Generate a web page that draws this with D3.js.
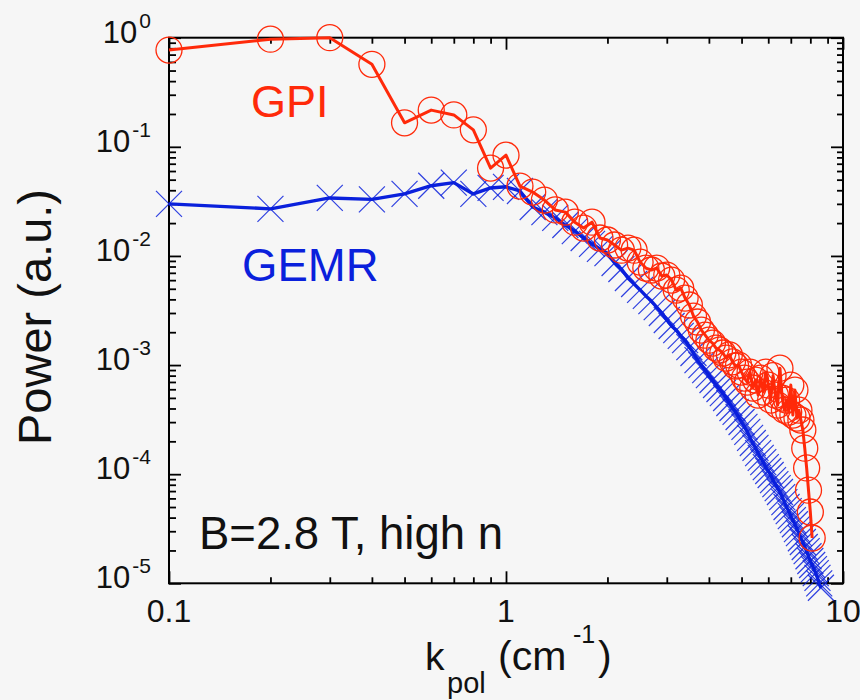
<!DOCTYPE html>
<html><head><meta charset="utf-8">
<script src="https://cdn.jsdelivr.net/npm/d3@7"></script>
<style>
html,body{margin:0;padding:0;background:#f6f6f6;}
svg{display:block;}
text{font-family:"Liberation Sans",Arial,Helvetica,sans-serif;}
</style>
</head><body>
<svg id="chart" width="860" height="700"></svg>
<script>
// ---------- data ----------
const kGPI = [0.1,0.2,0.3,0.4,0.5,0.6,0.7,0.8,0.9,1.0,
  1.1,1.2,1.3,1.4,1.5,1.6,1.7,1.8,1.9,2.0,
  2.1,2.2,2.3,2.4,2.5,2.6,2.7,2.8,2.9,3.0,
  3.1,3.2,3.3,3.4,3.5,3.6,3.7,3.8,3.9,4.0,
  4.1,4.2,4.3,4.4,4.5,4.6,4.7,4.8,4.9,5.0,
  5.1,5.2,5.3,5.4,5.5,5.6,5.7,5.8,5.9,6.0,
  6.1,6.2,6.3,6.4,6.5,6.6,6.7,6.8,6.9,7.0,
  7.1,7.2,7.3,7.4,7.5,7.6,7.7,7.8,7.9,8.0,
  8.1];
const powerGPI = [0.77,0.97,1.0,0.57,0.166,0.217,0.196,0.143,0.0638,0.0839,
  0.0437,0.0385,0.0325,0.0264,0.0252,0.0204,0.0180,0.0204,0.0146,0.0140,
  0.0126,0.0113,0.0118,0.0113,0.00879,0.00774,0.00743,0.00774,0.00655,0.00668,
  0.00601,0.00486,0.00507,0.00411,0.00355,0.00281,0.00248,0.00209,0.00188,0.00169,
  0.00159,0.00143,0.00137,0.00129,0.00116,0.00124,0.00107,0.00098,0.00100,0.000863,
  0.000760,0.000698,0.000863,0.000615,0.000729,0.000531,0.000760,0.000565,0.000863,0.000656,
  0.000478,0.000800,0.000531,0.000430,0.000937,0.000498,0.000386,0.000478,0.000371,0.000656,
  0.000348,0.000590,0.000327,0.000386,0.000313,0.000254,0.000173,0.000114,0.0000714,0.0000450,
  0.0000260];

const kGEMR = [0.1,0.2,0.3,0.4,0.5,0.6,0.7,0.8,0.9,1.0,
  1.1,1.2,1.3,1.4,1.5,1.6,1.7,1.8,1.9,2.0,
  2.1,2.2,2.3,2.4,2.5,2.6,2.7,2.8,2.9,3.0,
  3.1,3.2,3.3,3.4,3.5,3.6,3.7,3.8,3.9,4.0,
  4.1,4.2,4.3,4.4,4.5,4.6,4.7,4.8,4.9,5.0,
  5.1,5.2,5.3,5.4,5.5,5.6,5.7,5.8,5.9,6.0,
  6.1,6.2,6.3,6.4,6.5,6.6,6.7,6.8,6.9,7.0,
  7.1,7.2,7.3,7.4,7.5,7.6,7.7,7.8,7.9,8.0,
  8.1,8.2,8.3,8.4,8.5,8.6];
const powerGEMR = [0.030,0.027,0.034,0.033,0.037,0.044,0.047,0.037,0.042,0.043,
  0.0394,0.0281,0.0252,0.0223,0.0192,0.0169,0.0146,0.0129,0.0116,0.0106,
  0.00861,0.00759,0.00628,0.00553,0.00488,0.00430,0.00386,0.00340,0.00300,0.00259,
  0.00228,0.00209,0.00185,0.00169,0.00146,0.00129,0.00111,0.00100,0.000899,0.000809,
  0.000729,0.000656,0.000603,0.000553,0.000499,0.000449,0.000404,0.000372,0.000334,0.000301,
  0.000271,0.000244,0.000215,0.000193,0.000174,0.000156,0.000141,0.000129,0.000116,0.000107,
  9.82e-5,8.83e-5,8.11e-5,7.46e-5,6.86e-5,6.17e-5,5.55e-5,5.00e-5,4.59e-5,4.13e-5,
  3.79e-5,3.48e-5,3.14e-5,2.88e-5,2.59e-5,2.39e-5,2.15e-5,1.97e-5,1.77e-5,1.60e-5,
  1.47e-5,1.35e-5,1.24e-5,1.12e-5,1.00e-5,9.1e-6];

const xTickValues = [0.1, 1, 10];
const xTickLabels = ["0.1", "1", "10"];
const yTickValues = [1, 1e-1, 1e-2, 1e-3, 1e-4, 1e-5];
const yTickExponents = ["0", "-1", "-2", "-3", "-4", "-5"];
const seriesNames = ["GPI", "GEMR"];
const annotation = "B=2.8 T, high n";

// ---------- layout ----------
const RED = "#ff2a0a", BLUE = "#0a20dc";
const L = 169, R = 843, T = 37.7, B = 583.3;
const svg = d3.select("#chart");
svg.append("rect").attr("width", 860).attr("height", 700).attr("fill", "#f6f6f6");

const x = d3.scaleLog().domain([0.1, 10]).range([L, R]);
const y = d3.scaleLog().domain([1e-5, 1]).range([B, T]);

const minorX = x.ticks().filter(v => !xTickValues.some(m => Math.abs(m - v) < 1e-9));
const minorY = y.ticks().filter(v => !yTickValues.some(m => Math.abs(m / v - 1) < 1e-6));

function styleAxis(g) {
  g.select(".domain").remove();
  g.selectAll(".tick line").attr("stroke", "#000").attr("stroke-width", 1.8);
  g.selectAll(".tick text").remove();
}
// bottom / top
svg.append("g").attr("transform", `translate(0,${B})`)
  .call(d3.axisBottom(x).tickValues(xTickValues).tickSize(-12).tickFormat("")).call(styleAxis);
svg.append("g").attr("transform", `translate(0,${B})`)
  .call(d3.axisBottom(x).tickValues(minorX).tickSize(-6).tickFormat("")).call(styleAxis);
svg.append("g").attr("transform", `translate(0,${T})`)
  .call(d3.axisTop(x).tickValues(xTickValues).tickSize(-12).tickFormat("")).call(styleAxis);
svg.append("g").attr("transform", `translate(0,${T})`)
  .call(d3.axisTop(x).tickValues(minorX).tickSize(-6).tickFormat("")).call(styleAxis);
// left / right
svg.append("g").attr("transform", `translate(${L},0)`)
  .call(d3.axisLeft(y).tickValues(yTickValues).tickSize(-12).tickFormat("")).call(styleAxis);
svg.append("g").attr("transform", `translate(${L},0)`)
  .call(d3.axisLeft(y).tickValues(minorY).tickSize(-7).tickFormat("")).call(styleAxis);
svg.append("g").attr("transform", `translate(${R},0)`)
  .call(d3.axisRight(y).tickValues(yTickValues).tickSize(-12).tickFormat("")).call(styleAxis);
svg.append("g").attr("transform", `translate(${R},0)`)
  .call(d3.axisRight(y).tickValues(minorY).tickSize(-6).tickFormat("")).call(styleAxis);

// frame
svg.append("rect").attr("x", L).attr("y", T).attr("width", R - L).attr("height", B - T)
  .attr("fill", "none").attr("stroke", "#000").attr("stroke-width", 2);

// x tick labels
svg.append("g").selectAll("text").data(xTickValues).join("text")
  .attr("x", d => x(d)).attr("y", B + 39).attr("text-anchor", "middle")
  .attr("font-size", 32).attr("fill", "#111")
  .text((d, i) => xTickLabels[i]);

// y tick labels with superscripts
const yl = svg.append("g").selectAll("text").data(yTickValues).join("text")
  .attr("x", 151).attr("y", d => y(d) + 5).attr("text-anchor", "end").attr("fill", "#111");
yl.append("tspan").attr("font-size", 31).text("10");
yl.append("tspan").attr("font-size", 21).attr("dx", 2).attr("dy", -15).text((d, i) => yTickExponents[i]);

// ---------- series ----------
const gemr = kGEMR.map((k, i) => [k, powerGEMR[i]]);
const gpi = kGPI.map((k, i) => [k, powerGPI[i]]);
const line = d3.line().x(d => x(d[0])).y(d => y(d[1]));

svg.append("path").datum(gemr).attr("d", line).attr("fill", "none")
  .attr("stroke", BLUE).attr("stroke-width", 3.4).attr("stroke-linejoin", "round");
const s = 13;
svg.append("g").selectAll("path").data(gemr).join("path")
  .attr("d", d => { const cx = x(d[0]), cy = y(d[1]);
    return `M${cx - s},${cy - s}L${cx + s},${cy + s}M${cx - s},${cy + s}L${cx + s},${cy - s}`; })
  .attr("stroke", BLUE).attr("stroke-width", 1.2).attr("fill", "none").attr("opacity", 0.85);

svg.append("path").datum(gpi).attr("d", line).attr("fill", "none")
  .attr("stroke", RED).attr("stroke-width", 3).attr("stroke-linejoin", "round");
svg.append("g").selectAll("circle").data(gpi).join("circle")
  .attr("cx", d => x(d[0])).attr("cy", d => y(d[1])).attr("r", 13)
  .attr("fill", "none").attr("stroke", RED).attr("stroke-width", 1.3);

// ---------- labels ----------
svg.append("text").attr("x", 251).attr("y", 117).attr("font-size", 45).attr("fill", RED).text(seriesNames[0]);
svg.append("text").attr("x", 242).attr("y", 281).attr("font-size", 45.5).attr("fill", BLUE).text(seriesNames[1]);
svg.append("text").attr("x", 199).attr("y", 549).attr("font-size", 45.5).attr("fill", "#111").text(annotation);

// y axis title
svg.append("text").attr("transform", "translate(51,317) rotate(-90)").attr("text-anchor", "middle")
  .attr("font-size", 47).attr("fill", "#111").text("Power (a.u.)");

// x axis title
const xt = svg.append("text").attr("fill", "#111");
xt.append("tspan").attr("x", 425).attr("y", 670).attr("font-size", 39).text("k");
xt.append("tspan").attr("x", 447).attr("y", 693).attr("font-size", 29).text("pol");
xt.append("tspan").attr("x", 498).attr("y", 670).attr("font-size", 41).text("(cm");
xt.append("tspan").attr("x", 573).attr("y", 643).attr("font-size", 25).text("-1");
xt.append("tspan").attr("x", 598).attr("y", 670).attr("font-size", 41).text(")");
</script>
</body></html>
